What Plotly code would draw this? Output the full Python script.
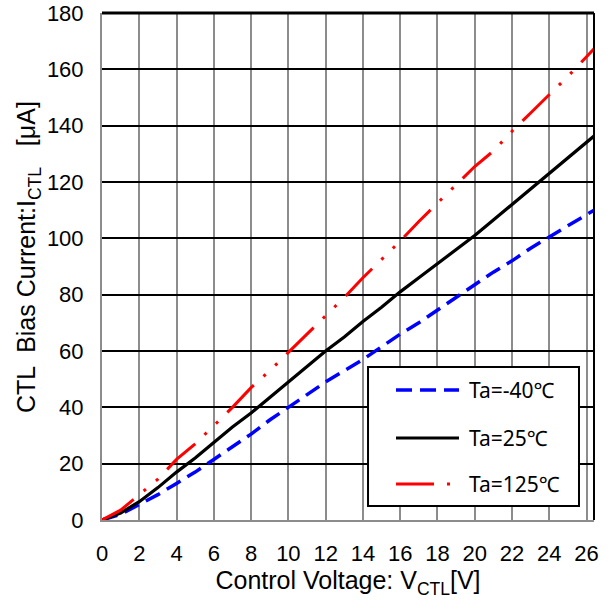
import plotly.graph_objects as go

# ---- data ----
v_ctl = [0, 1, 2, 3, 4, 5, 6, 7, 8, 9, 10, 11, 12, 13, 14, 15, 16, 17, 18, 19,
         20, 21, 22, 23, 24, 25, 26, 26.4]
i_m40 = [0, 2, 5.5, 9, 13, 17, 21.5, 26, 30.5, 35.5, 40, 44.5, 49, 53, 57, 61.5,
         66, 70, 74.5, 79, 83.5, 88, 92, 96.5, 100.5, 104.5, 108.5, 110]
i_25 = [0, 2.5, 6.5, 11.5, 17, 22, 27.5, 33, 38, 43.5, 49, 54.5, 60, 65, 70.5,
        75.5, 81, 86, 91, 96, 101, 106.5, 112, 117.5, 123, 128.5, 134, 136.3]
i_125 = [0, 3.5, 9, 14.5, 21.5, 27, 33.5, 40, 47, 53, 59.5, 66, 72.5, 79, 86,
         92.5, 99, 106, 112.5, 119, 125.5, 131, 138, 144.5, 151, 157.5, 164.5, 167.3]

names = ["Ta=-40℃", "Ta=25℃", "Ta=125℃"]
x_ticks = list(range(0, 27, 2))
y_ticks = list(range(0, 181, 20))
x_title = "Control Voltage: V<sub>CTL</sub>[V]"
y_title = "CTL  Bias Current:I<sub>CTL</sub>   [μA]"

series = [i_m40, i_25, i_125]
styles = [dict(color="#0000ff", width=3.5, dash="16px,8px"),
          dict(color="#000000", width=3.2),
          dict(color="#ff0000", width=3, dash="38px,13px,3px,13px,3px,13px")]

fig = go.Figure()
for nm, ys, st in zip(names, series, styles):
    fig.add_trace(go.Scatter(x=v_ctl, y=ys, mode="lines", name=nm, line=st,
                             showlegend=False))

tick_font = dict(family="Liberation Sans, Arial, sans-serif", size=22, color="#000")
title_font = dict(family="Liberation Sans, Arial, sans-serif", size=25, color="#000")
legend_font = dict(family="Noto Sans, Noto Sans CJK KR, sans-serif", size=21, color="#000")

fig.update_layout(
    width=616, height=612,
    margin=dict(l=102, r=22, t=13, b=92),
    plot_bgcolor="white", paper_bgcolor="white",
    showlegend=False,
    xaxis=dict(range=[0, 26.4], tickvals=x_ticks, ticktext=[str(t) for t in x_ticks],
               automargin=False,
               showgrid=True, gridcolor="#8c8c8c", gridwidth=2,
               showline=True, linecolor="#8c8c8c", linewidth=2,
               zeroline=False, ticks="outside", ticklen=13, tickcolor="rgba(0,0,0,0)",
               tickfont=tick_font,
               title=dict(text=x_title, font=title_font, standoff=6)),
    yaxis=dict(range=[0, 180], tickvals=y_ticks, ticktext=[str(t) for t in y_ticks],
               automargin=False,
               showgrid=True, gridcolor="#000", gridwidth=1.5,
               showline=True, linecolor="#8c8c8c", linewidth=2,
               zeroline=False, ticks="outside", ticklen=12, tickcolor="rgba(0,0,0,0)",
               tickfont=tick_font),
)
# y-axis title placed as rotated text
fig.add_annotation(text=y_title, xref="paper", yref="paper", x=-0.15, y=0.519,
                   xanchor="center", yanchor="middle", textangle=-90,
                   showarrow=False, font=title_font)
# chart-area border on top and right
fig.add_shape(type="line", xref="paper", yref="paper", x0=1, x1=1, y0=0, y1=1,
              line=dict(color="#000", width=2), layer="above")
fig.add_shape(type="line", xref="paper", yref="paper", x0=0, x1=1, y0=1, y1=1,
              line=dict(color="#000", width=3), layer="above")

# legend box (drawn in paper coordinates, like the reference's boxed key)
fig.add_shape(type="rect", xref="paper", yref="paper", x0=0.5407, x1=0.9695,
              y0=0.0276, y1=0.3018, fillcolor="white",
              line=dict(color="#000", width=2), layer="above")
row_y = [0.2564, 0.1617, 0.0710]
for nm, st, yy in zip(names, styles, row_y):
    fig.add_shape(type="line", xref="paper", yref="paper", x0=0.5976, x1=0.7256,
                  y0=yy, y1=yy, line=st, layer="above")
    fig.add_annotation(text=nm, xref="paper", yref="paper", x=0.7419, y=yy,
                       xanchor="left", yanchor="middle", showarrow=False,
                       font=legend_font)

fig.write_html("out.html", config={"displayModeBar": False},
               post_script="document.body.style.margin='0px';")
